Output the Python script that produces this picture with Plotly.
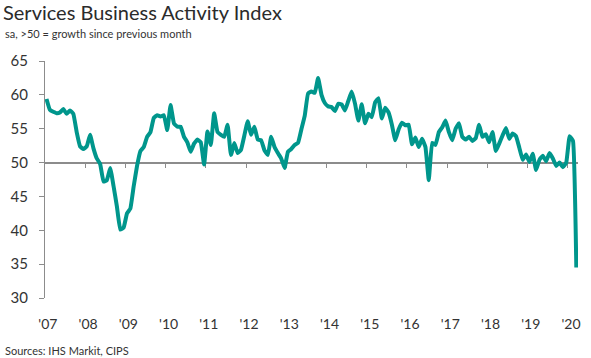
import plotly.graph_objects as go

# Monthly Services Business Activity Index, Jan 2007 - Mar 2020
v2007 = [59.4, 57.8, 57.5, 57.3, 57.4, 57.9, 57.2, 57.7, 57.2, 54.5, 52.4, 52.0]
v2008 = [52.4, 54.1, 52.1, 50.6, 49.8, 47.2, 47.4, 49.2, 46.5, 43.5, 40.1, 40.4]
v2009 = [42.5, 43.2, 46.5, 49.5, 51.7, 52.3, 53.8, 54.5, 56.6, 57.0, 56.8, 57.0]
v2010 = [54.8, 58.5, 55.8, 55.3, 55.3, 53.8, 53.0, 51.6, 52.8, 53.4, 53.0, 49.7]
v2011 = [54.6, 52.6, 57.3, 54.5, 54.1, 53.8, 55.6, 51.1, 52.9, 51.4, 51.9, 54.0]
v2012 = [56.1, 54.1, 55.3, 53.4, 53.3, 51.8, 51.1, 53.8, 52.3, 51.4, 50.6, 49.2]
v2013 = [51.6, 52.0, 52.6, 52.9, 54.9, 56.9, 60.2, 60.5, 60.3, 62.5, 60.0, 58.8]
v2014 = [58.3, 58.2, 57.6, 58.7, 58.6, 57.7, 59.1, 60.5, 58.7, 56.2, 58.6, 55.8]
v2015 = [57.2, 56.7, 58.9, 59.5, 56.5, 58.1, 57.4, 55.6, 53.3, 54.9, 55.9, 55.5]
v2016 = [55.6, 52.7, 53.7, 52.3, 53.5, 52.3, 47.4, 52.9, 52.6, 54.5, 55.2, 56.2]
v2017 = [54.5, 53.3, 55.0, 55.8, 53.8, 53.4, 53.8, 53.2, 53.6, 55.6, 53.8, 54.2]
v2018 = [53.0, 54.5, 51.7, 52.8, 54.0, 55.1, 53.5, 54.3, 53.9, 52.2, 50.4, 51.2]
v2019 = [50.1, 51.3, 48.9, 50.4, 51.0, 50.2, 51.4, 50.6, 49.5, 50.0, 49.3, 50.0]
v2020 = [53.9, 53.2, 34.5]

years = list(range(2007, 2021))
year_labels = ["'07", "'08", "'09", "'10", "'11", "'12", "'13",
               "'14", "'15", "'16", "'17", "'18", "'19", "'20"]
y_ticks = [30, 35, 40, 45, 50, 55, 60, 65]

values = (v2007 + v2008 + v2009 + v2010 + v2011 + v2012 + v2013 + v2014 +
          v2015 + v2016 + v2017 + v2018 + v2019 + v2020)
months = [f"{y}-{m:02d}" for y in years for m in range(1, 13)][:len(values)]
x_idx = list(range(len(values)))

label_pos = [12 * k + 0.4 for k in range(len(years))]
tick_pos = [12 * k - 0.5 for k in range(1, len(years))]

TEAL = "#00968C"
GREY = "#8c8c8c"
TXT = "#333333"
FONT = "Lato"

fig = go.Figure()
fig.add_trace(go.Scatter(
    x=x_idx, y=values, mode="lines", customdata=months,
    line=dict(color=TEAL, width=4, shape="spline", smoothing=0.3),
    hovertemplate="%{customdata}: %{y}<extra></extra>",
    showlegend=False,
))
# invisible trace to activate the crossing axis at 50
fig.add_trace(go.Scatter(x=[0], y=[50], xaxis="x2", mode="markers",
                         marker=dict(opacity=0), showlegend=False,
                         hoverinfo="skip"))

xr = [-0.45, 158.5]
fig.update_layout(
    width=591, height=358,
    margin=dict(l=45, r=11, t=61, b=60),
    paper_bgcolor="white", plot_bgcolor="white",
    font=dict(family=FONT, color=TXT),
    title=dict(text="Services Business Activity Index",
               xref="container", yref="container",
               x=3 / 591, xanchor="left",
               y=1 - 13 / 358, yanchor="middle",
               font=dict(size=20, color="#2b2b2b", family=FONT)),
    xaxis=dict(range=xr, tickvals=label_pos, ticktext=year_labels,
               showline=False, showgrid=False, zeroline=False,
               ticks="", tickfont=dict(size=14, color=TXT),
               ticklabelstandoff=16),
    xaxis2=dict(range=xr, overlaying="x", anchor="free",
                position=(50 - 30) / (65 - 30), side="bottom",
                tickvals=tick_pos, showticklabels=False,
                ticks="outside", ticklen=5, tickwidth=1, tickcolor=GREY,
                showline=True, linecolor=GREY, linewidth=1.5,
                showgrid=False, zeroline=False, layer="below traces"),
    yaxis=dict(range=[30, 65], tickvals=y_ticks,
               showline=True, linecolor=GREY, linewidth=1,
               ticks="outside", ticklen=5, tickcolor=GREY,
               showgrid=False, zeroline=False,
               tickfont=dict(size=15, color=TXT),
               ticklabelstandoff=8),
    annotations=[
        dict(text="sa, >50 = growth since previous month",
             xref="paper", yref="paper", x=(3 - 45) / 535, xanchor="left",
             y=(298 - 33) / 237, yanchor="middle", showarrow=False,
             font=dict(size=11, color=TXT, family=FONT)),
        dict(text="Sources: IHS Markit, CIPS",
             xref="paper", yref="paper", x=(3 - 45) / 535, xanchor="left",
             y=(298 - 350) / 237, yanchor="middle", showarrow=False,
             font=dict(size=11, color=TXT, family=FONT)),
    ],
)

fig.write_html("out.html",
               config={"displayModeBar": False},
               post_script="document.body.style.margin='0px';")
